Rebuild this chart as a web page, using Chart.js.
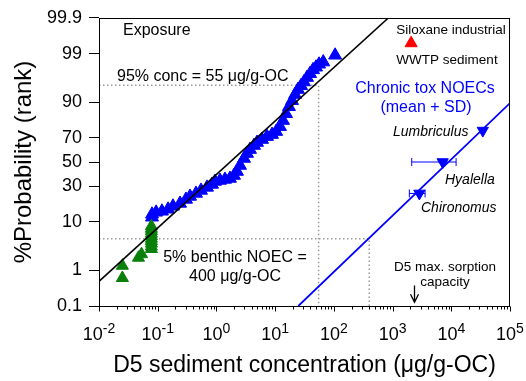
<!DOCTYPE html>
<html>
<head>
<meta charset="utf-8">
<script src="https://cdn.jsdelivr.net/npm/chart.js@4.4.1/dist/chart.umd.min.js"></script>
<style>
  html, body { margin: 0; padding: 0; background: #fff; }
  canvas { display: block; }
</style>
</head>
<body>
<canvas id="chart" width="526" height="381"></canvas>
<script>
const FONT = '"Liberation Sans", Arial, sans-serif';

// probability axis ticks (%)
const yTicks = [0.1, 1, 10, 30, 50, 70, 90, 99, 99.9];
const yTickLabels = ['0.1', '1', '10', '30', '50', '70', '90', '99', '99.9'];
const xDecades = [-2, -1, 0, 1, 2, 3, 4, 5];

// exposure data, measured sediments (ug/g-OC vs rank %)
const blueX = [0.080, 0.080, 0.094, 0.118, 0.150, 0.182, 0.240, 0.303, 0.355, 0.449, 0.546, 0.691, 0.841, 0.946,
  1.15, 1.40, 1.70, 1.99, 2.24, 2.52, 2.95, 3.32, 3.73, 4.37, 4.91, 5.98, 7.27, 8.85, 10.4, 12.1, 13.6, 15.3,
  17.2, 19.4, 21.8, 24.5, 27.6, 31.0, 34.9, 39.3, 44.2, 49.7, 55.9, 66, 105];
const blueP = [11.8, 13.1, 14.0, 14.5, 15.5, 17.1, 18.7, 21.1, 23.0, 25.0, 27.1, 29.3, 31.5, 33.8,
  34.6, 35.4, 36.2, 38.6, 41.9, 47.0, 53.0, 57.2, 60.5, 63.8, 66.2, 68.5, 70.7, 72.2, 74.3, 77.6, 81.3, 85.0,
  88.2, 90.6, 92.6, 94.0, 94.9, 95.7, 96.5, 97.1, 97.6, 97.9, 98.2, 98.4, 98.9];

// non-detects (green)
const greenX = [0.025, 0.025, 0.047, 0.053, 0.078, 0.078, 0.078, 0.078, 0.078, 0.078, 0.078, 0.078, 0.078, 0.078];
const greenP = [0.64, 1.3, 2.0, 2.4, 3.1, 3.5, 4.0, 4.5, 5.0, 5.6, 6.2, 6.9, 7.6, 8.4];

// siloxane industrial WWTP sediment
const siloxX = [2070];
const siloxP = [99.46];

// chronic tox NOECs
const toxSpecies = ['Lumbriculus', 'Hyalella', 'Chironomus'];
const toxMean = [34400, 7130, 2860];
const toxP = [75, 50, 25];
const toxLow = [null, 2120, 1930];
const toxHigh = [null, 12080, 3580];

// fitted lines
const fitX = [0.01, 846];
const fitP = [0.52, 99.9];
const toxFitX = [24.8, 100000];
const toxFitP = [0.1, 89.7];

// reference lines
const ref95X = [0.01, 55, 55];
const ref95P = [95, 95, 0.1];
const ref5X = [0.01, 400, 400];
const ref5P = [5, 5, 0.1];

// sorption capacity arrow
const sorptionX = 2350;
const sorptionP = [0.40, 0.13];

// inverse normal cdf (Acklam)
function probit(p) {
  const a = [-3.969683028665376e+01, 2.209460984245205e+02, -2.759285104469687e+02, 1.383577518672690e+02, -3.066479806614716e+01, 2.506628277459239e+00];
  const b = [-5.447609879822406e+01, 1.615858368580409e+02, -1.556989798598866e+02, 6.680131188771972e+01, -1.328068155288572e+01];
  const c = [-7.784894002430293e-03, -3.223964580411365e-01, -2.400758277161838e+00, -2.549732539343734e+00, 4.374664141464968e+00, 2.938163982698783e+00];
  const d = [7.784695709041462e-03, 3.224671290700398e-01, 2.445134137142996e+00, 3.754408661907416e+00];
  const pl = 0.02425;
  let q, r;
  if (p < pl) {
    q = Math.sqrt(-2 * Math.log(p));
    return (((((c[0] * q + c[1]) * q + c[2]) * q + c[3]) * q + c[4]) * q + c[5]) / ((((d[0] * q + d[1]) * q + d[2]) * q + d[3]) * q + 1);
  }
  if (p > 1 - pl) {
    q = Math.sqrt(-2 * Math.log(1 - p));
    return -(((((c[0] * q + c[1]) * q + c[2]) * q + c[3]) * q + c[4]) * q + c[5]) / ((((d[0] * q + d[1]) * q + d[2]) * q + d[3]) * q + 1);
  }
  q = p - 0.5;
  r = q * q;
  return (((((a[0] * r + a[1]) * r + a[2]) * r + a[3]) * r + a[4]) * r + a[5]) * q / (((((b[0] * r + b[1]) * r + b[2]) * r + b[3]) * r + b[4]) * r + 1);
}

const pts = (xs, ps) => xs.map((x, i) => ({ x: x, y: probit(ps[i] / 100) }));

function text(ctx, s, x, y, size, opts = {}) {
  ctx.save();
  ctx.font = (opts.italic ? 'italic ' : '') + size + 'px ' + FONT;
  ctx.fillStyle = opts.color || '#000';
  ctx.textAlign = opts.align || 'left';
  ctx.textBaseline = 'middle';
  ctx.fillText(s, x, y);
  ctx.restore();
}

const decor = {
  id: 'decor',
  afterDraw(chart) {
    const { ctx, chartArea: a, scales: { x, y } } = chart;
    ctx.save();
    ctx.strokeStyle = '#000';
    ctx.lineWidth = 1;
    ctx.strokeRect(Math.round(a.left) + 0.5, Math.round(a.top) + 0.5, Math.round(a.right - a.left) - 1, Math.round(a.bottom - a.top));

    // x ticks, major and minor
    const yb = Math.round(a.bottom) + 0.5;
    ctx.beginPath();
    xDecades.forEach((k) => {
      const px = Math.round(x.getPixelForValue(Math.pow(10, k))) + 0.5;
      ctx.moveTo(px, yb); ctx.lineTo(px, yb + 5);
      if (k < 5) {
        for (let m = 2; m <= 9; m++) {
          const mx = Math.round(x.getPixelForValue(m * Math.pow(10, k))) + 0.5;
          ctx.moveTo(mx, yb); ctx.lineTo(mx, yb + 3);
        }
      }
    });
    ctx.stroke();

    // x tick labels 10^k
    ctx.fillStyle = '#000';
    ctx.textBaseline = 'alphabetic';
    ctx.textAlign = 'left';
    xDecades.forEach((k) => {
      const px = x.getPixelForValue(Math.pow(10, k));
      ctx.font = '18px ' + FONT;
      const wb = ctx.measureText('10').width;
      ctx.font = '14px ' + FONT;
      const ws = ctx.measureText(String(k)).width;
      const x0 = px - (wb + ws) / 2;
      ctx.font = '18px ' + FONT;
      ctx.fillText('10', x0, 340);
      ctx.font = '14px ' + FONT;
      ctx.fillText(String(k), x0 + wb, 333);
    });

    // error bars for NOECs
    ctx.strokeStyle = '#0000ff';
    ctx.lineWidth = 1;
    toxMean.forEach((m, i) => {
      if (toxLow[i] == null) return;
      const py = y.getPixelForValue(probit(toxP[i] / 100));
      const x1 = x.getPixelForValue(toxLow[i]);
      const x2 = x.getPixelForValue(toxHigh[i]);
      ctx.beginPath();
      ctx.moveTo(x1, py); ctx.lineTo(x2, py);
      ctx.moveTo(x1, py - 4); ctx.lineTo(x1, py + 4);
      ctx.moveTo(x2, py - 4); ctx.lineTo(x2, py + 4);
      ctx.stroke();
    });

    // sorption arrow
    const ax = Math.round(x.getPixelForValue(sorptionX)) + 0.5;
    const ay1 = y.getPixelForValue(probit(sorptionP[0] / 100));
    const ay2 = y.getPixelForValue(probit(sorptionP[1] / 100));
    ctx.strokeStyle = '#000';
    ctx.lineWidth = 1.3;
    ctx.beginPath();
    ctx.moveTo(ax, ay1); ctx.lineTo(ax, ay2);
    ctx.moveTo(ax - 4, ay2 - 8); ctx.lineTo(ax, ay2); ctx.lineTo(ax + 4, ay2 - 8);
    ctx.stroke();
    ctx.restore();

    // annotations
    text(ctx, 'Exposure', 123, 31, 16);
    text(ctx, '95% conc = 55 μg/g-OC', 117, 77, 16);
    text(ctx, 'Siloxane industrial', 451, 30, 13.5, { align: 'center' });
    text(ctx, 'WWTP sediment', 447, 60, 13.5, { align: 'center' });
    text(ctx, 'Chronic tox NOECs', 425, 89, 16, { align: 'center', color: '#0000ff' });
    text(ctx, '(mean + SD)', 426, 108, 16, { align: 'center', color: '#0000ff' });
    text(ctx, toxSpecies[0], 393, 132, 14, { italic: true });
    text(ctx, toxSpecies[1], 445, 180, 14, { italic: true });
    text(ctx, toxSpecies[2], 421, 208, 14, { italic: true });
    text(ctx, '5% benthic NOEC =', 235, 258, 16, { align: 'center' });
    text(ctx, '400 μg/g-OC', 235, 277, 16, { align: 'center' });
    text(ctx, 'D5 max. sorption', 445, 267, 13.5, { align: 'center' });
    text(ctx, 'capacity', 445, 282, 13.5, { align: 'center' });
  }
};

const lineSet = (xs, ps, color, width, dash, order) => ({
  data: pts(xs, ps), showLine: true, pointRadius: 0, borderColor: color, borderWidth: width,
  borderDash: dash, fill: false, order: order
});
const pointSet = (xs, ps, color, radius, rotation, order) => ({
  data: pts(xs, ps), showLine: false, pointStyle: 'triangle', pointRadius: radius, pointRotation: rotation,
  backgroundColor: color, borderColor: color, borderWidth: 1, order: order
});

new Chart(document.getElementById('chart').getContext('2d'), {
  type: 'scatter',
  data: {
    datasets: [
      lineSet(fitX, fitP, '#000', 1.6, [], 0),
      pointSet(greenX, greenP, '#0a800a', 7, 0, 1),
      pointSet(blueX, blueP, '#0000ff', 7.5, 0, 2),
      pointSet(siloxX, siloxP, '#ff0000', 7, 0, 1),
      pointSet(toxMean, toxP, '#0000ff', 6.5, 180, 1),
      lineSet(toxFitX, toxFitP, '#0000ff', 1.8, [], 3),
      lineSet(ref95X, ref95P, '#999', 1.5, [1.5, 2.5], 5),
      lineSet(ref5X, ref5P, '#999', 1.5, [1.5, 2.5], 5)
    ]
  },
  options: {
    responsive: false,
    animation: false,
    layout: { padding: { left: 0, right: 16, top: 18, bottom: 0 } },
    plugins: { legend: { display: false }, tooltip: { enabled: false } },
    scales: {
      x: {
        type: 'logarithmic',
        min: 0.01,
        max: 100000,
        ticks: { display: false },
        grid: { display: false },
        border: { display: false },
        title: {
          display: true,
          text: 'D5 sediment concentration (μg/g-OC)',
          color: '#000',
          font: { size: 23, family: FONT },
          padding: { top: 0, bottom: 2 }
        },
        afterFit: (s) => { s.height = 75; }
      },
      y: {
        type: 'linear',
        min: probit(0.001),
        max: probit(0.999),
        afterBuildTicks: (s) => { s.ticks = yTicks.map((p) => ({ value: probit(p / 100) })); },
        ticks: {
          autoSkip: false,
          color: '#000',
          padding: 7,
          font: { size: 18, family: FONT },
          callback: (v, i) => yTickLabels[i]
        },
        grid: { drawOnChartArea: false, drawTicks: true, tickLength: 10, color: '#000' },
        border: { display: false },
        title: {
          display: true,
          text: '%Probability (rank)',
          color: '#000',
          font: { size: 24, family: FONT },
          padding: { top: 10, bottom: 0 }
        },
        afterFit: (s) => { s.width = 99; }
      }
    }
  },
  plugins: [decor]
});
</script>
</body>
</html>
